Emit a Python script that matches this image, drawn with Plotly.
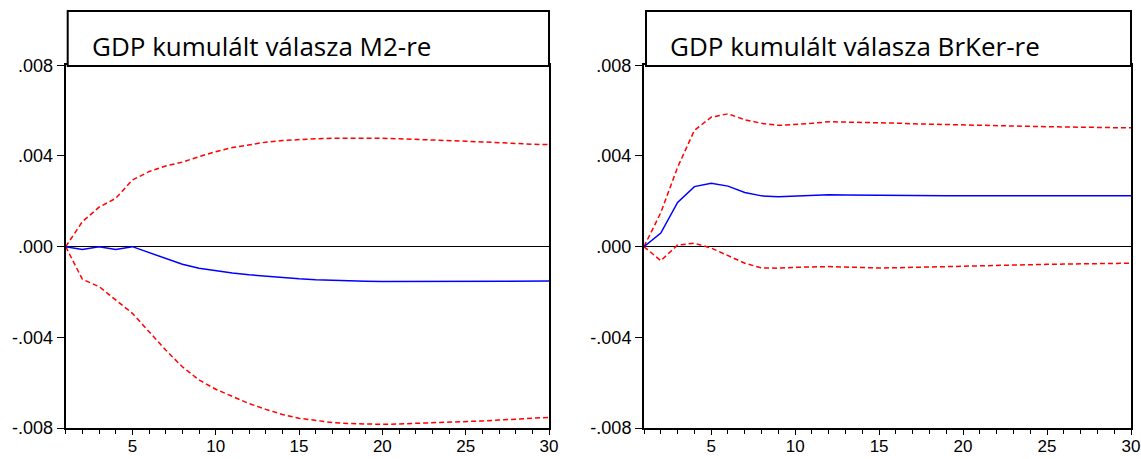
import plotly.graph_objects as go

periods = list(range(1, 31))

# Left panel: GDP cumulative response to M2
m2_resp = [0.0, -0.00012, 0.0, -0.00012, 0.0, -0.00026, -0.00052, -0.00078, -0.00095, -0.00107,
           -0.00116, -0.00124, -0.00131, -0.00137, -0.00142, -0.00146, -0.00149, -0.00152, -0.00153, -0.00154,
           -0.00154, -0.00154, -0.00154, -0.00154, -0.00154, -0.00154, -0.00154, -0.00154, -0.00153, -0.00152]
m2_upper = [0.0, 0.0011, 0.00174, 0.00213, 0.00294, 0.00331, 0.00356, 0.00373, 0.00397, 0.00419,
            0.00437, 0.00450, 0.00461, 0.00468, 0.00473, 0.00476, 0.00478, 0.00479, 0.00479, 0.00478,
            0.00476, 0.00474, 0.00471, 0.00468, 0.00465, 0.00462, 0.00458, 0.00454, 0.00452, 0.00450]
m2_lower = [0.0, -0.00144, -0.00176, -0.00235, -0.00294, -0.00375, -0.00456, -0.0053, -0.00588, -0.00629,
            -0.00662, -0.00692, -0.00718, -0.0074, -0.00757, -0.00768, -0.00776, -0.0078, -0.00783, -0.00784,
            -0.00782, -0.0078, -0.00778, -0.00775, -0.00772, -0.00769, -0.00765, -0.00761, -0.00757, -0.00753]

# Right panel: GDP cumulative response to BrKer
bk_resp = [0.0, 0.0006, 0.00195, 0.00265, 0.0028, 0.00267, 0.00239, 0.00224, 0.0022, 0.00223,
           0.00227, 0.00229, 0.00228, 0.00227, 0.00226, 0.00225, 0.00225, 0.00225, 0.00225, 0.00225,
           0.00225, 0.00225, 0.00225, 0.00225, 0.00225, 0.00224, 0.00224, 0.00224, 0.00224, 0.00224]
bk_upper = [0.0, 0.0015, 0.0035, 0.00513, 0.00571, 0.00586, 0.0056, 0.00544, 0.00535, 0.00538,
            0.00544, 0.00551, 0.0055, 0.00549, 0.00547, 0.00545, 0.00542, 0.0054, 0.00538, 0.00536,
            0.00534, 0.00533, 0.00531, 0.0053, 0.00529, 0.00528, 0.00527, 0.00526, 0.00525, 0.00524]
bk_lower = [0.0, -0.00062, 0.00007, 0.00015, -0.00006, -0.00038, -0.00073, -0.00094, -0.00095, -0.00091,
            -0.00088, -0.00088, -0.0009, -0.00093, -0.00094, -0.00093, -0.00091, -0.00089, -0.00087, -0.00085,
            -0.00083, -0.00082, -0.0008, -0.00079, -0.00078, -0.00077, -0.00076, -0.00075, -0.00074, -0.00073]

titles = ["GDP kumulált válasza M2-re", "GDP kumulált válasza BrKer-re"]
y_tickvals = [0.008, 0.004, 0.0, -0.004, -0.008]
y_ticktext = [".008", ".004", ".000", "-.004", "-.008"]

W, H = 1141, 459
fig = go.Figure()

panels = [(m2_resp, m2_upper, m2_lower, "x", "y"), (bk_resp, bk_upper, bk_lower, "x2", "y2")]
for resp, up, lo, xa, ya in panels:
    for series, color, dash in [(up, "#FF0000", "5px,3px"), (lo, "#FF0000", "5px,3px"), (resp, "#0000FF", "solid")]:
        fig.add_trace(go.Scatter(x=periods, y=series, mode="lines", xaxis=xa, yaxis=ya,
                                 line=dict(color=color, width=1.5, dash=dash), showlegend=False,
                                 hoverinfo="skip"))

# pixel layout
left_px = [(65.7, 549.0), (644.0, 1131.0)]
y_top_px, y_bot_px = 65.3, 428.0
ydom = [1 - y_bot_px / H, 1 - y_top_px / H]

axis_common = dict(showline=True, linecolor="black", linewidth=2, mirror=True, showgrid=False,
                   automargin=False)
tickfont = dict(family="Liberation Sans, Arial", size=18, color="black")

for i, (x0, x1) in enumerate(left_px):
    sfx = "" if i == 0 else str(i + 1)
    fig.layout["xaxis" + sfx] = dict(
        domain=[x0 / W, x1 / W], range=[1, 30], anchor="y" + sfx,
        tickmode="linear", tick0=5, dtick=5, ticks="outside", ticklen=5, tickwidth=1,
        tickcolor="black", tickfont=dict(family="Liberation Sans, Arial", size=17, color="black"),
        zeroline=False, ticklabeloverflow="allow", ticklabelstandoff=-3,
        minor=dict(tickmode="linear", tick0=1, dtick=1, ticks="outside", ticklen=4, tickcolor="black"),
        **axis_common)
    fig.layout["yaxis" + sfx] = dict(
        domain=ydom, range=[-0.008, 0.008], anchor="x" + sfx,
        tickmode="array", tickvals=y_tickvals, ticktext=y_ticktext,
        ticks="outside", ticklen=7, tickwidth=1, tickcolor="black", tickfont=tickfont,
        zeroline=True, zerolinecolor="black", zerolinewidth=1,
        **axis_common)
    # title box
    fig.add_shape(type="rect", xref="paper", yref="paper",
                  x0=(x0 + 2) / W, x1=x1 / W, y0=1 - 66 / H, y1=1 - 11 / H,
                  line=dict(color="black", width=2), fillcolor="white", layer="above")
    fig.add_annotation(xref="paper", yref="paper", x=(x0 + 24) / W, y=1 - 46 / H,
                       xanchor="left", yanchor="middle", showarrow=False,
                       text=titles[i], font=dict(family="Open Sans", size=26, color="black"))

fig.update_layout(template="none", width=W, height=H, margin=dict(l=0, r=0, t=0, b=0, pad=0),
                  plot_bgcolor="white", paper_bgcolor="white", showlegend=False)

fig.write_html("out.html", config={"displayModeBar": False},
               post_script="document.body.style.margin='0';document.body.style.overflow='hidden';")
